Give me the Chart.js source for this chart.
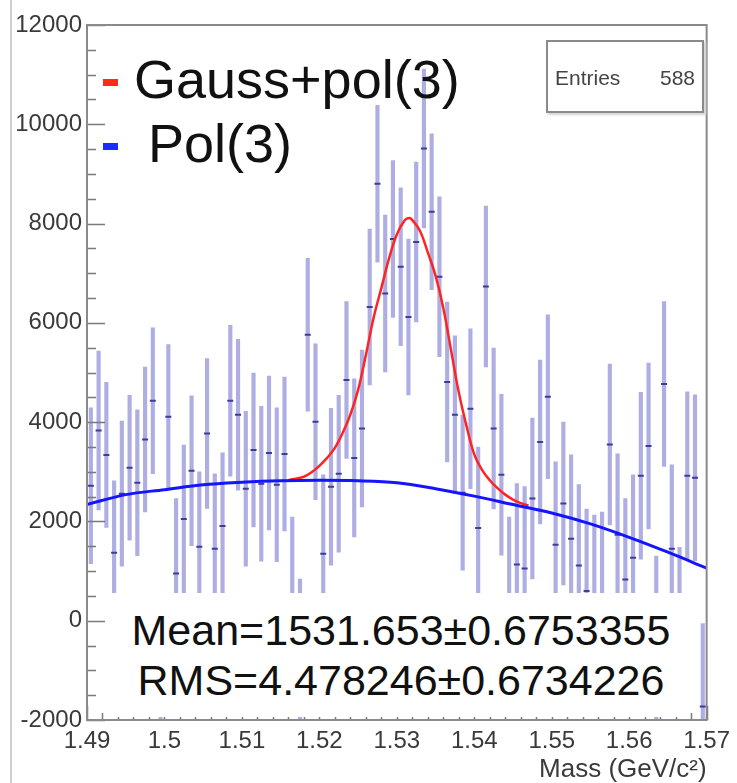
<!DOCTYPE html>
<html>
<head>
<meta charset="utf-8">
<script src="https://cdn.jsdelivr.net/npm/chart.js@4.4.1/dist/chart.umd.min.js"></script>
<style>
  body { margin: 0; background: #fff; }
  #wrap { position: relative; width: 737px; height: 783px; font-family: "Liberation Sans", Arial, sans-serif; }
  .abs { position: absolute; white-space: nowrap; }
  .big { font-size: 54px; line-height: 54px; color: #111; }
  .stat { font-size: 43px; line-height: 43px; color: #111; left: 0; width: 578px; text-align: center; }
</style>
</head>
<body>
<div id="wrap">
  <canvas id="massChart" width="737" height="783"></canvas>

  <!-- fit legend -->
  <div class="abs" style="left:103px;top:79px;width:15px;height:7px;background:#ff2a1a"></div>
  <div class="abs big" style="left:134px;top:52px">Gauss+pol(3)</div>
  <div class="abs" style="left:103px;top:143px;width:15px;height:7px;background:#1a2cff"></div>
  <div class="abs big" style="left:148px;top:116px">Pol(3)</div>

  <!-- stat box -->
  <div class="abs" style="left:546px;top:40px;width:158px;height:73px;box-sizing:border-box;border:2px solid #8a8a8a;box-shadow:2px 2px 2px #d5d5d5;background:#fff;font-size:21px;color:#444">
    <span class="abs" style="left:7px;top:24px">Entries</span>
    <span class="abs" style="right:7px;top:24px">588</span>
  </div>

  <!-- fit result box -->
  <div class="abs" style="left:112px;top:593px;width:578px;height:124px;background:#fff">
    <div class="abs stat" style="top:16px">Mean=1531.653±0.6753355</div>
    <div class="abs stat" style="top:66px">RMS=4.478246±0.6734226</div>
  </div>
</div>

<script>
// histogram binning: 80 bins of 1 MeV between 1.49 and 1.57 GeV/c^2
const xMin = 1.49;
const xMax = 1.57;
const binWidth = 0.001;

// bin contents
const counts = [
  2720, 3830, 3340, 1370, 2560, 3080, 2780, 3650, 4430, -1200,
  4110, 950, 2050, 3020, 1490, 3770, 1450, 1910, 4430, 4150,
  2660, 3440, 2760, 3380, 2740, 3360, 540, -720, 5760, 4010,
  1350, 2700, 2960, 4850, 3280, 3870, 6320, 8800, 6590, 7690,
  7130, 6120, 7630, 9510, 8240, 6930, 4810, 4150, 2580, 4270,
  1870, 6730, 3870, 2940, 520, 1130, 1050, 2460, 3600, 4510,
  1530, 2360, 1650, 1110, 600, 520, 540, 3550, 1730, 830,
  1270, 2920, 3520, -360, 4770, 1450, -200, 2920, 2880, -1730
];

// error bar half lengths
const errors = [
  1570, 1600, 1460, 1450, 1460, 1460, 1470, 1460, 1470, 1500,
  1450, 1510, 1490, 1510, 1510, 1510, 1510, 1470, 1520, 1520,
  1560, 1550, 1560, 1550, 1550, 1550, 1550, 1560, 1540, 1570,
  1590, 1580, 1580, 1580, 1590, 1580, 1570, 1580, 1580, 1580,
  1590, 1570, 1610, 1600, 1570, 1610, 1610, 1590, 1560, 1610,
  1630, 1620, 1620, 1620, 1570, 1630, 1650, 1620, 1650, 1650,
  1670, 1640, 1690, 1630, 1650, 1610, 1650, 1620, 1630, 1630,
  1670, 1680, 1670, 1660, 1660, 1690, 1680, 1690, 1670, 1670
];

// pol(3) background fit
const bgFitX = [1.490, 1.495, 1.500, 1.505, 1.510, 1.515, 1.520, 1.525, 1.530, 1.535, 1.540, 1.545, 1.550, 1.555, 1.560, 1.565, 1.570];
const bgFitY = [2340, 2540, 2640, 2740, 2790, 2820, 2830, 2820, 2780, 2660, 2510, 2340, 2170, 1950, 1680, 1380, 1060];

// gauss+pol(3) fit
const totalFitX = [1.516, 1.518, 1.519, 1.520, 1.521, 1.522, 1.523, 1.524, 1.525, 1.526, 1.527, 1.528, 1.529, 1.530, 1.531, 1.5316,
                   1.532, 1.533, 1.534, 1.535, 1.536, 1.537, 1.538, 1.539, 1.540, 1.541, 1.542, 1.543, 1.544, 1.545, 1.546, 1.547];
const totalFitY = [2830, 2900, 2990, 3120, 3280, 3480, 3780, 4150, 4650, 5350, 6100, 6700, 7300, 7780, 8060, 8110,
                   8070, 7850, 7420, 6950, 6300, 5450, 4600, 3920, 3350, 3040, 2830, 2670, 2540, 2440, 2370, 2320];

const xTickLabels = ["1.49", "1.5", "1.51", "1.52", "1.53", "1.54", "1.55", "1.56", "1.57"];
const yTickLabels = ["-2000", "0", "2000", "4000", "6000", "8000", "10000", "12000"];

const binCenters = counts.map((_, i) => +(xMin + binWidth * (i + 0.5)).toFixed(4));

// ROOT style frame with inward ticks
const rootAxes = {
  id: "rootAxes",
  beforeDraw(chart) {
    const ctx = chart.ctx;
    ctx.save();
    ctx.strokeStyle = "#cfcfcf";
    ctx.lineWidth = 2;
    ctx.beginPath();
    ctx.moveTo(11, 0);
    ctx.lineTo(11, chart.height);
    ctx.stroke();
    ctx.restore();
  },
  afterDatasetsDraw(chart) {
    const { ctx, chartArea: a, scales: { x, y } } = chart;
    ctx.save();
    ctx.strokeStyle = "#7a7a7a";
    ctx.lineWidth = 1.5;
    ctx.beginPath();
    for (let v = -2000; v <= 12000; v += 500) {
      const py = Math.round(y.getPixelForValue(v)) + 0.5;
      const len = v % 2000 === 0 ? 18 : 9;
      ctx.moveTo(a.left, py);
      ctx.lineTo(a.left + len, py);
    }
    for (let k = 0; k <= 40; k++) {
      const px = Math.round(x.getPixelForValue(xMin + k * 0.002)) + 0.5;
      const len = k % 5 === 0 ? 14 : 7;
      ctx.moveTo(px, a.bottom);
      ctx.lineTo(px, a.bottom - len);
    }
    ctx.stroke();
    ctx.strokeStyle = "#8a8a8a";
    ctx.lineWidth = 2;
    ctx.strokeRect(a.left, a.top, a.right - a.left, a.bottom - a.top);
    ctx.restore();
  }
};

const ctx = document.getElementById("massChart").getContext("2d");

new Chart(ctx, {
  type: "bar",
  data: {
    datasets: [
      {
        type: "line",
        label: "Pol(3)",
        data: bgFitX.map((x, i) => ({ x: x, y: bgFitY[i] })),
        borderColor: "#1414ff",
        borderWidth: 3,
        pointRadius: 0,
        cubicInterpolationMode: "monotone",
        order: 1
      },
      {
        type: "line",
        label: "Gauss+pol(3)",
        data: totalFitX.map((x, i) => ({ x: x, y: totalFitY[i] })),
        borderColor: "#ff2424",
        borderWidth: 2.5,
        pointRadius: 0,
        tension: 0.4,
        order: 2
      },
      {
        type: "line",
        label: "bin content",
        data: binCenters.map((x, i) => ({ x: x, y: counts[i] })),
        showLine: false,
        pointStyle: "line",
        pointRadius: 3,
        borderWidth: 2,
        borderColor: "#3c3c9a",
        order: 3
      },
      {
        type: "bar",
        label: "error",
        data: binCenters.map((x, i) => ({ x: x, y: [counts[i] - errors[i], counts[i] + errors[i]] })),
        backgroundColor: "rgba(140, 140, 215, 0.7)",
        barThickness: 3.5,
        grouped: false,
        order: 4
      }
    ]
  },
  options: {
    responsive: false,
    animation: false,
    layout: { padding: { top: 25, right: 23, left: 0, bottom: 0 } },
    plugins: {
      legend: { display: false },
      tooltip: { enabled: false }
    },
    scales: {
      x: {
        type: "linear",
        min: xMin,
        max: xMax,
        offset: false,
        grid: { display: false, drawTicks: false, tickLength: 0 },
        border: { display: false },
        ticks: {
          stepSize: 0.01,
          padding: 7,
          maxRotation: 0,
          autoSkip: false,
          color: "#3a3a3a",
          font: { family: "Liberation Sans", size: 24 },
          callback: (v, i) => xTickLabels[i]
        },
        title: {
          display: true,
          text: "Mass (GeV/c²)",
          align: "end",
          color: "#3a3a3a",
          font: { family: "Liberation Sans", size: 26 },
          padding: { top: 0, bottom: -2 }
        },
        afterFit: scale => { scale.height = 63; }
      },
      y: {
        min: -2000,
        max: 12000,
        grid: { display: false, drawTicks: false, tickLength: 0 },
        border: { display: false },
        ticks: {
          stepSize: 2000,
          padding: 5,
          color: "#3a3a3a",
          font: { family: "Liberation Sans", size: 24 },
          callback: (v, i) => yTickLabels[i]
        },
        afterFit: scale => { scale.width = 87; }
      }
    }
  },
  plugins: [rootAxes]
});
</script>
</body>
</html>
